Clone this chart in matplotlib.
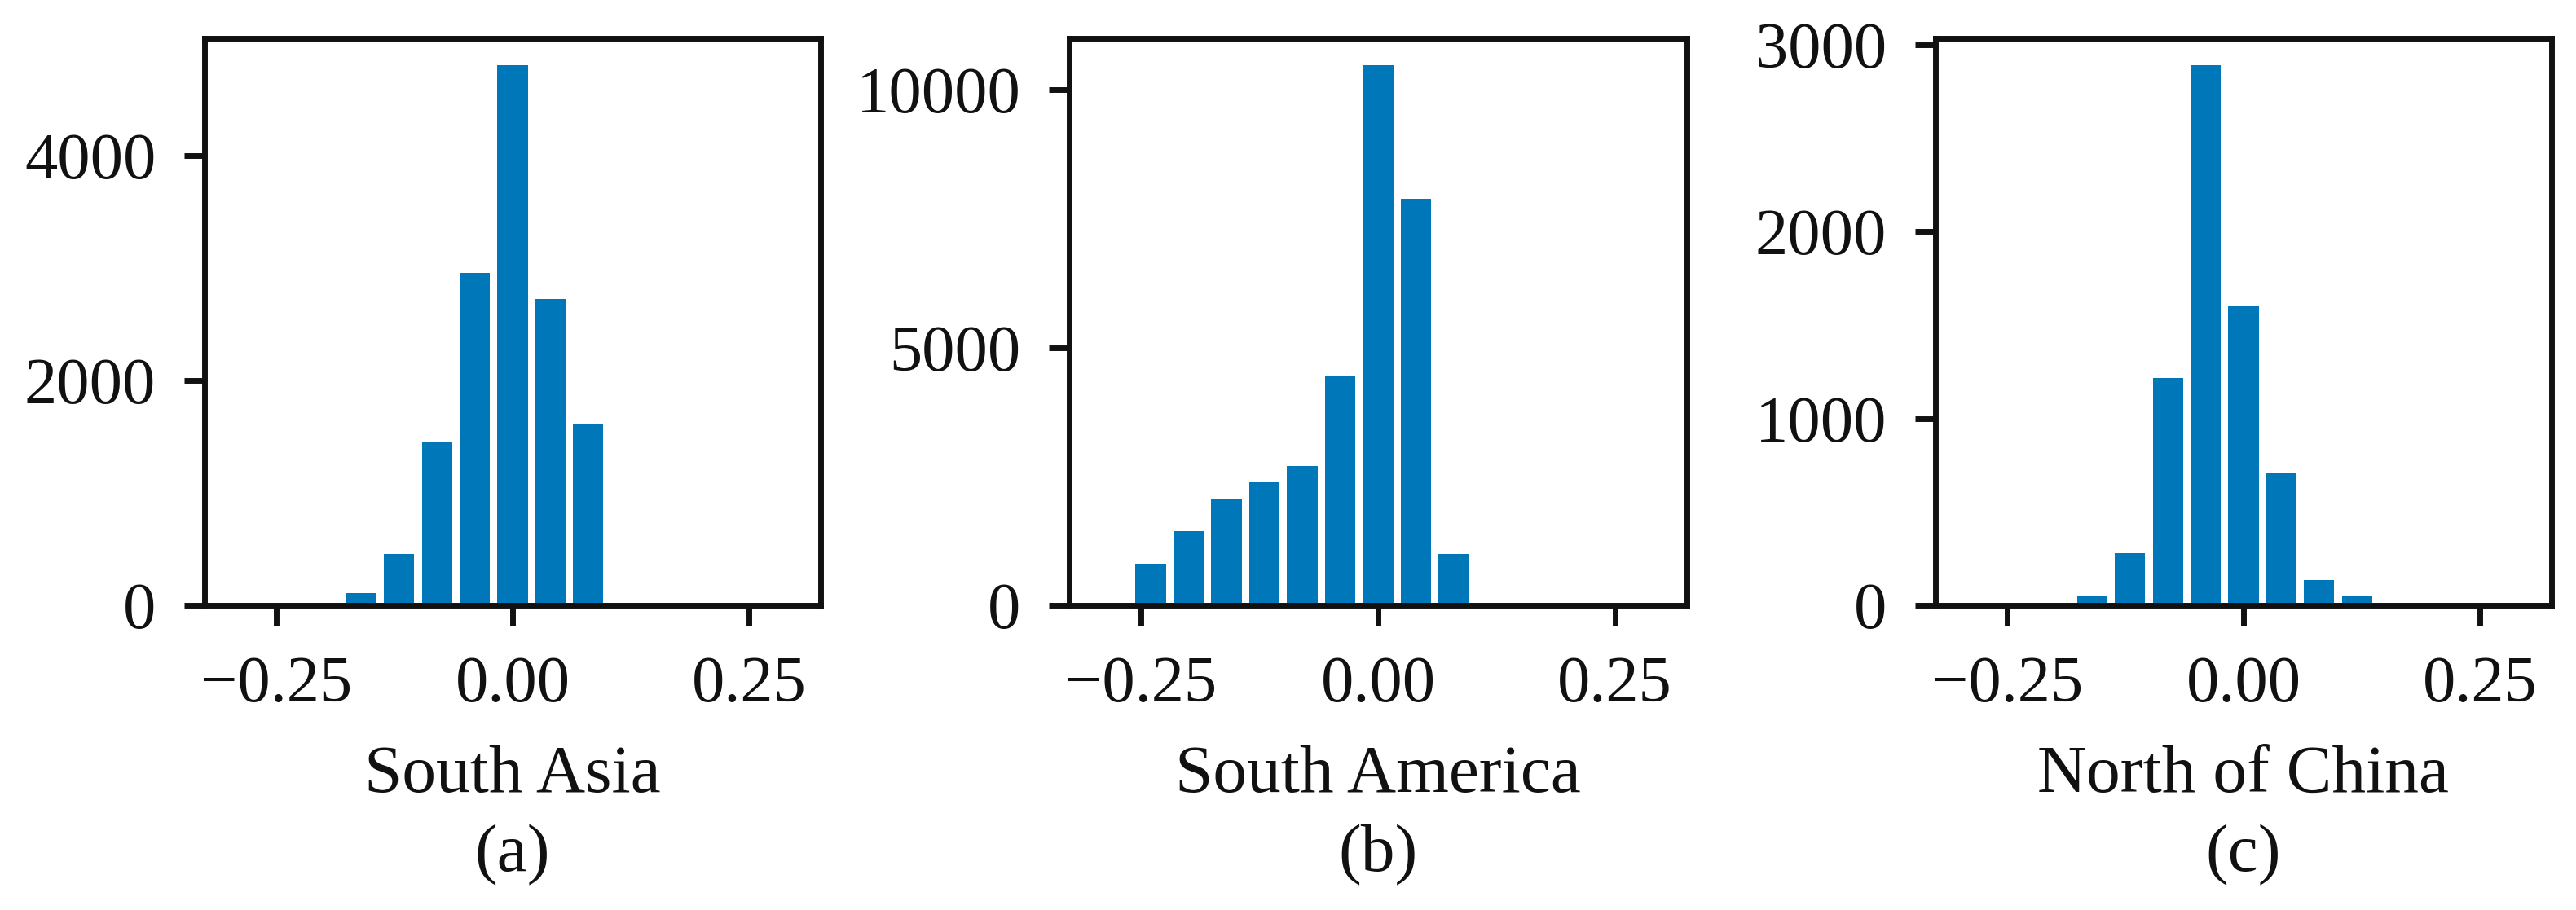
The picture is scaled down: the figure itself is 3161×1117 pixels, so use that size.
import matplotlib
matplotlib.use("Agg")
import matplotlib.pyplot as plt

plt.rcParams['font.family'] = ['Liberation Serif', 'DejaVu Sans']

W, H = 3161, 1117
BAR_COLOR = "#0077b8"

# histogram bin centres, same for all three panels
bin_centers = [-0.28, -0.24, -0.20, -0.16, -0.12, -0.08, -0.04, 0.0,
               0.04, 0.08, 0.12, 0.16, 0.20, 0.24, 0.28]

south_asia = [3, 5, 10, 108, 460, 1447, 2956, 4806, 2723, 1612, 8, 5, 4, 8, 3]
south_america = [20, 812, 1432, 2074, 2390, 2706, 4464, 10485, 7892, 992, 10, 5, 5, 3, 2]
north_china = [1, 2, 3, 47, 277, 1218, 2891, 1601, 712, 137, 47, 6, 2, 1, 1]

panels = [
    ("South Asia", "(a)", south_asia, [0, 2000, 4000], 5044, (251, 1007)),
    ("South America", "(b)", south_america, [0, 5000, 10000], 11003, (1312, 2070)),
    ("North of China", "(c)", north_china, [0, 1000, 2000, 3000], 3034, (2375, 3131)),
]

fig = plt.figure(figsize=(W / 100, H / 100), dpi=100)
top, bottom = 47, 743

for name, letter, ys, yticks, ymax, (left, right) in panels:
    ax = fig.add_axes([left / W, 1 - bottom / H, (right - left) / W, (bottom - top) / H])
    ax.bar(bin_centers, ys, width=0.032, color=BAR_COLOR)
    ax.set_xlim(-0.326, 0.326)
    ax.set_ylim(0, ymax)
    ax.set_xticks([-0.25, 0.0, 0.25], ["\u22120.25", "0.00", "0.25"])
    ax.set_yticks(yticks)
    ax.tick_params(labelsize=58, width=5, length=18, color="#111111", labelcolor="#111111")
    ax.tick_params(axis="x", pad=27)
    ax.tick_params(axis="y", pad=25)
    for spine in ax.spines.values():
        spine.set_linewidth(5)
        spine.set_color("#111111")
    ax.set_xlabel(name + "\n" + letter, fontsize=60, labelpad=26, linespacing=1.38, color="#111111")

fig.savefig("out.png", dpi=100)
